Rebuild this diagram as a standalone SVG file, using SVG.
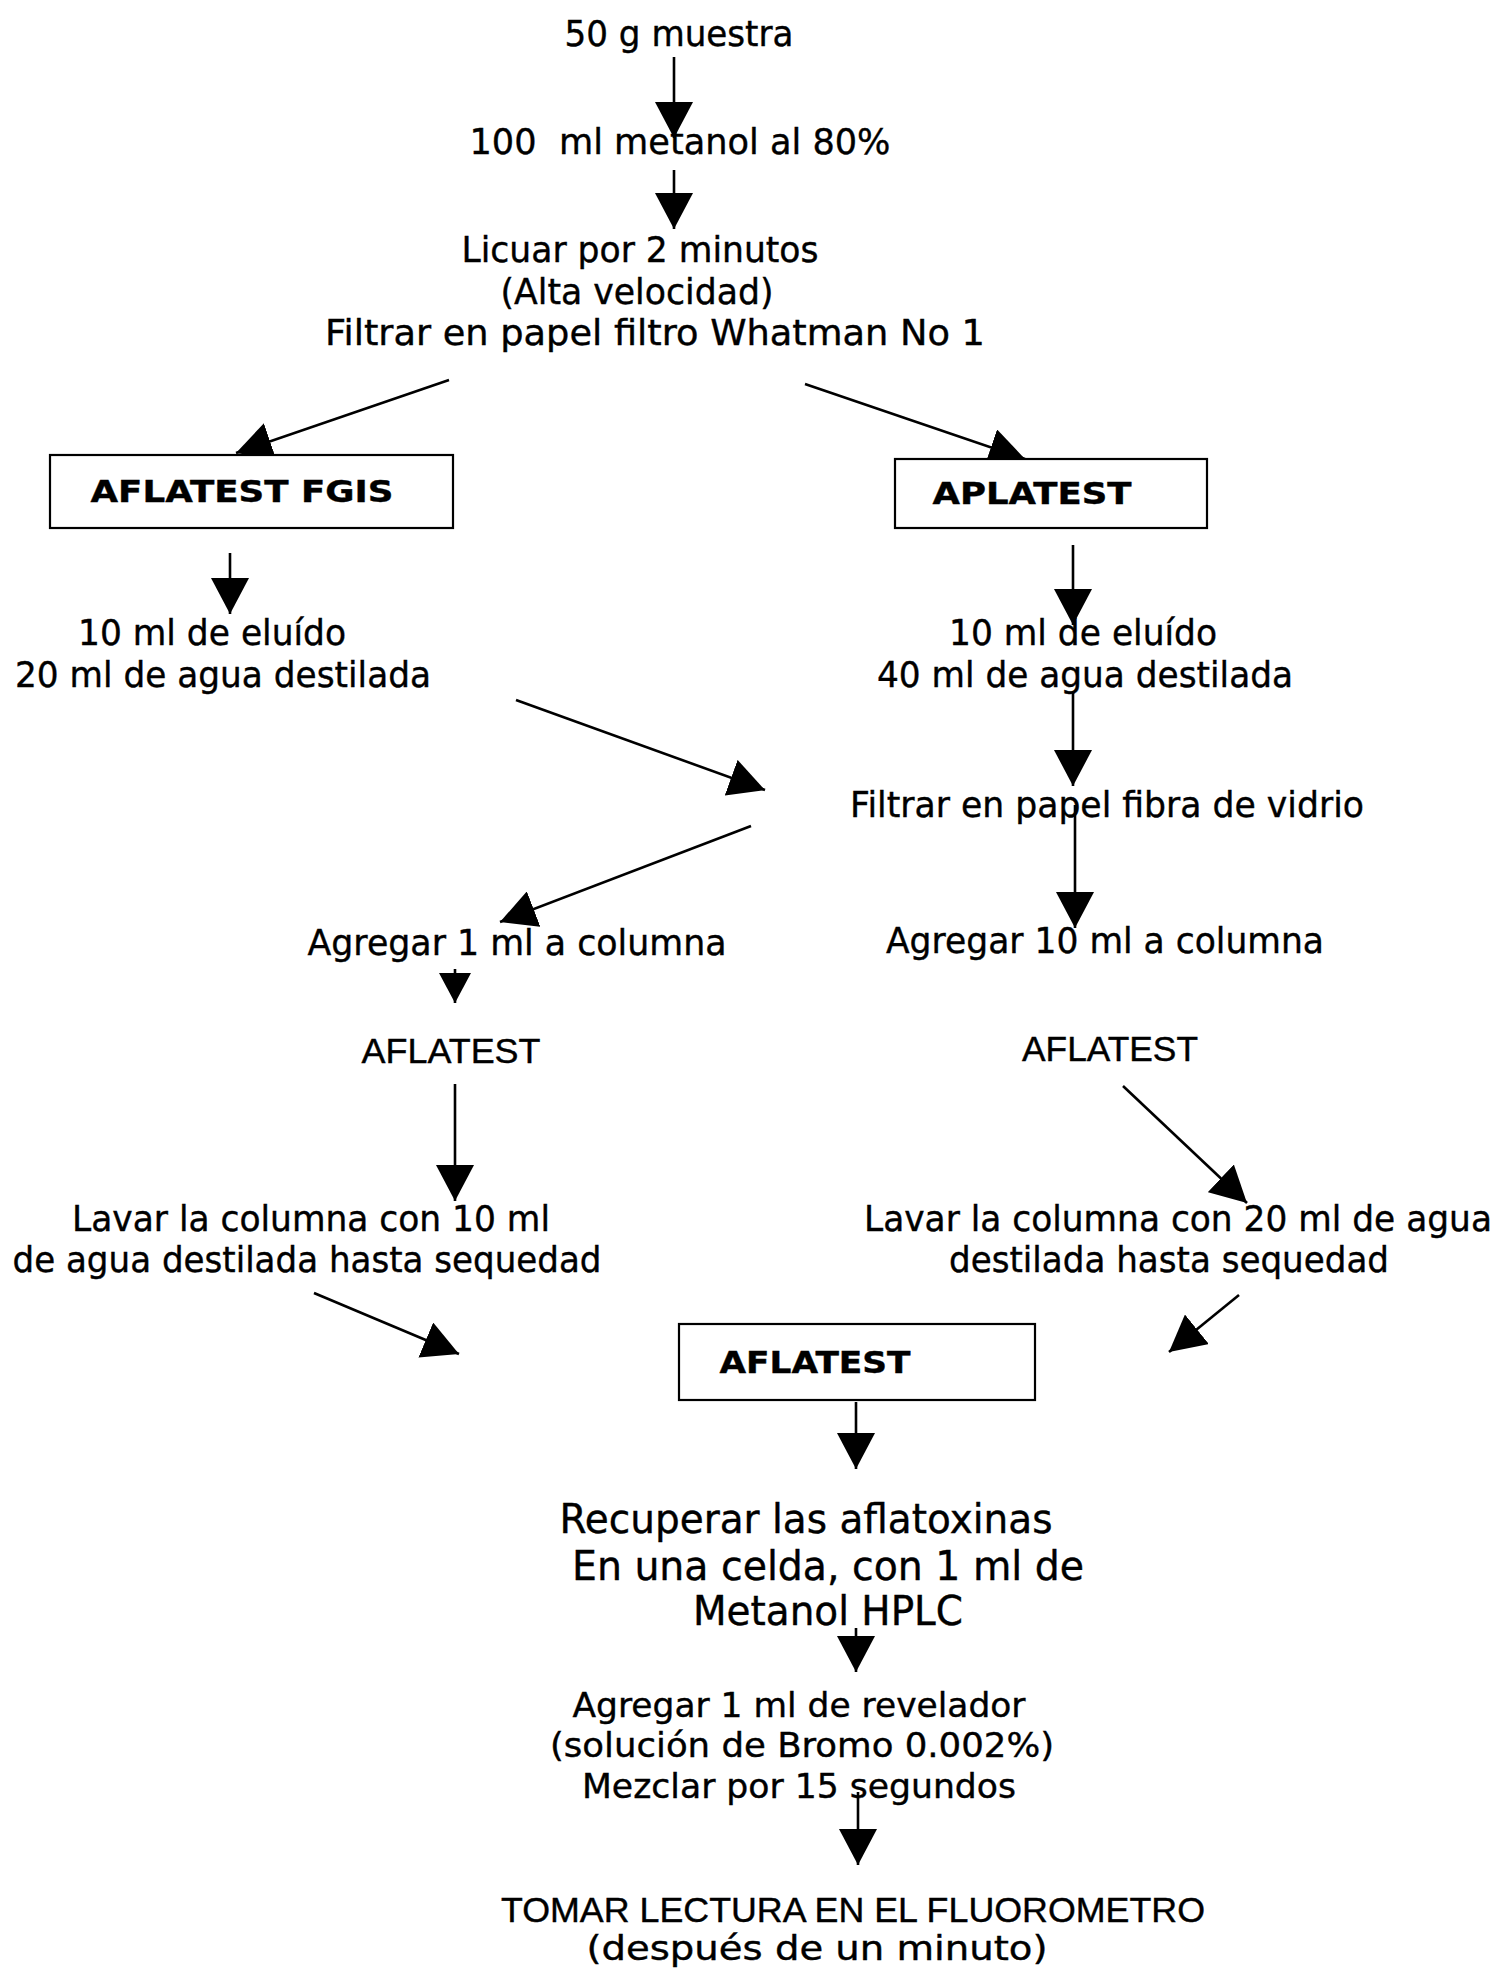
<svg xmlns="http://www.w3.org/2000/svg" width="1509" height="1971" viewBox="0 0 1509 1971">
<style>
text{font-family:"DejaVu Sans","Liberation Sans",sans-serif;fill:#000;stroke:#000;stroke-width:0.4;text-anchor:middle;white-space:pre}
.t{font-size:36px}
.b{font-size:31px;font-weight:bold}
.n{font-family:"Liberation Sans","DejaVu Sans",sans-serif;font-size:35px}
.l{font-size:40px}
.m{font-size:34px}
.box{fill:#fff;stroke:#000;stroke-width:2.2}
.c line{stroke:#000;stroke-width:2.6;marker-end:url(#h)}
.c line.s{marker-end:url(#hs)}
</style>
<defs>
<marker id="h" viewBox="0 0 36 38" refX="36" refY="19" markerWidth="36" markerHeight="38" markerUnits="userSpaceOnUse" orient="auto"><path d="M0,0 L36,19 L0,38 z" fill="#000"/></marker>
<marker id="hs" viewBox="0 0 30 32" refX="30" refY="16" markerWidth="30" markerHeight="32" markerUnits="userSpaceOnUse" orient="auto"><path d="M0,0 L30,16 L0,32 z" fill="#000"/></marker>
</defs>
<rect width="1509" height="1971" fill="#fff"/>
<g class="c" id="connectors">
<line x1="674" y1="57" x2="674" y2="138"/>
<line x1="674" y1="170" x2="674" y2="229"/>
<line x1="449" y1="380" x2="236" y2="453"/>
<line x1="805" y1="384" x2="1025" y2="459"/>
<line x1="230" y1="553" x2="230" y2="614"/>
<line x1="1073" y1="545" x2="1073" y2="625"/>
<line x1="516" y1="700" x2="765" y2="790"/>
<line x1="1073" y1="692" x2="1073" y2="786"/>
<line x1="751" y1="826" x2="500" y2="922"/>
<line x1="1075" y1="805" x2="1075" y2="928"/>
<line class="s" x1="455" y1="969" x2="455" y2="1003"/>
<line x1="455" y1="1084" x2="455" y2="1201"/>
<line x1="1123" y1="1086" x2="1247" y2="1203"/>
<line x1="314" y1="1293" x2="459" y2="1354"/>
<line x1="1239" y1="1295" x2="1169" y2="1352"/>
<line x1="856" y1="1402" x2="856" y2="1469"/>
<line x1="856" y1="1628" x2="856" y2="1672"/>
<line x1="858" y1="1792" x2="858" y2="1865"/>
</g>
<g id="n1"><text class="t" x="679" y="46" textLength="229" lengthAdjust="spacingAndGlyphs">50 g muestra</text></g>
<g id="n2"><text class="t" x="680" y="154" textLength="421" lengthAdjust="spacingAndGlyphs">100  ml metanol al 80%</text></g>
<g id="n3">
<text class="t" x="640" y="262" textLength="357" lengthAdjust="spacingAndGlyphs">Licuar por 2 minutos</text>
<text class="t" x="637" y="304" textLength="273" lengthAdjust="spacingAndGlyphs">(Alta velocidad)</text>
<text class="t" x="655" y="345" textLength="660" lengthAdjust="spacingAndGlyphs">Filtrar en papel filtro Whatman No 1</text>
</g>
<g id="n4"><rect class="box" x="50" y="455" width="403" height="73"/><text class="b" x="242" y="502" textLength="303" lengthAdjust="spacingAndGlyphs">AFLATEST FGIS</text></g>
<g id="n5"><rect class="box" x="895" y="459" width="312" height="69"/><text class="b" x="1032" y="504" textLength="199" lengthAdjust="spacingAndGlyphs">APLATEST</text></g>
<g id="n6">
<text class="t" x="212" y="645" textLength="268" lengthAdjust="spacingAndGlyphs">10 ml de eluído</text>
<text class="t" x="223" y="687" textLength="416" lengthAdjust="spacingAndGlyphs">20 ml de agua destilada</text>
</g>
<g id="n7">
<text class="t" x="1083" y="645" textLength="268" lengthAdjust="spacingAndGlyphs">10 ml de eluído</text>
<text class="t" x="1085" y="687" textLength="416" lengthAdjust="spacingAndGlyphs">40 ml de agua destilada</text>
</g>
<g id="n8"><text class="t" x="1107" y="817" textLength="514" lengthAdjust="spacingAndGlyphs">Filtrar en papel fibra de vidrio</text></g>
<g id="n9"><text class="t" x="517" y="955" textLength="419" lengthAdjust="spacingAndGlyphs">Agregar 1 ml a columna</text></g>
<g id="n10"><text class="t" x="1105" y="953" textLength="438" lengthAdjust="spacingAndGlyphs">Agregar 10 ml a columna</text></g>
<g id="n11"><text class="n" x="451" y="1063" textLength="179" lengthAdjust="spacingAndGlyphs">AFLATEST</text></g>
<g id="n12"><text class="n" x="1110" y="1061" textLength="176" lengthAdjust="spacingAndGlyphs">AFLATEST</text></g>
<g id="n13">
<text class="t" x="311" y="1231" textLength="478" lengthAdjust="spacingAndGlyphs">Lavar la columna con 10 ml</text>
<text class="t" x="307" y="1272" textLength="589" lengthAdjust="spacingAndGlyphs">de agua destilada hasta sequedad</text>
</g>
<g id="n14">
<text class="t" x="1178" y="1231" font-size="35" textLength="628" lengthAdjust="spacingAndGlyphs" style="font-size:35px">Lavar la columna con 20 ml de agua</text>
<text class="t" x="1169" y="1272" textLength="440" lengthAdjust="spacingAndGlyphs">destilada hasta sequedad</text>
</g>
<g id="n15"><rect class="box" x="679" y="1324" width="356" height="76"/><text class="b" x="815" y="1373" textLength="191" lengthAdjust="spacingAndGlyphs">AFLATEST</text></g>
<g id="n16">
<text class="l" x="806" y="1533" textLength="493" lengthAdjust="spacingAndGlyphs">Recuperar las aflatoxinas</text>
<text class="l" x="828" y="1580" textLength="512" lengthAdjust="spacingAndGlyphs">En una celda, con 1 ml de</text>
<text class="l" x="828" y="1625" textLength="270" lengthAdjust="spacingAndGlyphs">Metanol HPLC</text>
</g>
<g id="n17">
<text class="m" x="799" y="1717" textLength="453" lengthAdjust="spacingAndGlyphs">Agregar 1 ml de revelador</text>
<text class="m" x="802" y="1757" textLength="504" lengthAdjust="spacingAndGlyphs">(solución de Bromo 0.002%)</text>
<text class="m" x="799" y="1798" textLength="434" lengthAdjust="spacingAndGlyphs">Mezclar por 15 segundos</text>
</g>
<g id="n18">
<text class="n" x="853" y="1922" textLength="704" lengthAdjust="spacingAndGlyphs">TOMAR LECTURA EN EL FLUOROMETRO</text>
<text class="m" x="817" y="1960" textLength="461" lengthAdjust="spacingAndGlyphs">(después de un minuto)</text>
</g>
</svg>
